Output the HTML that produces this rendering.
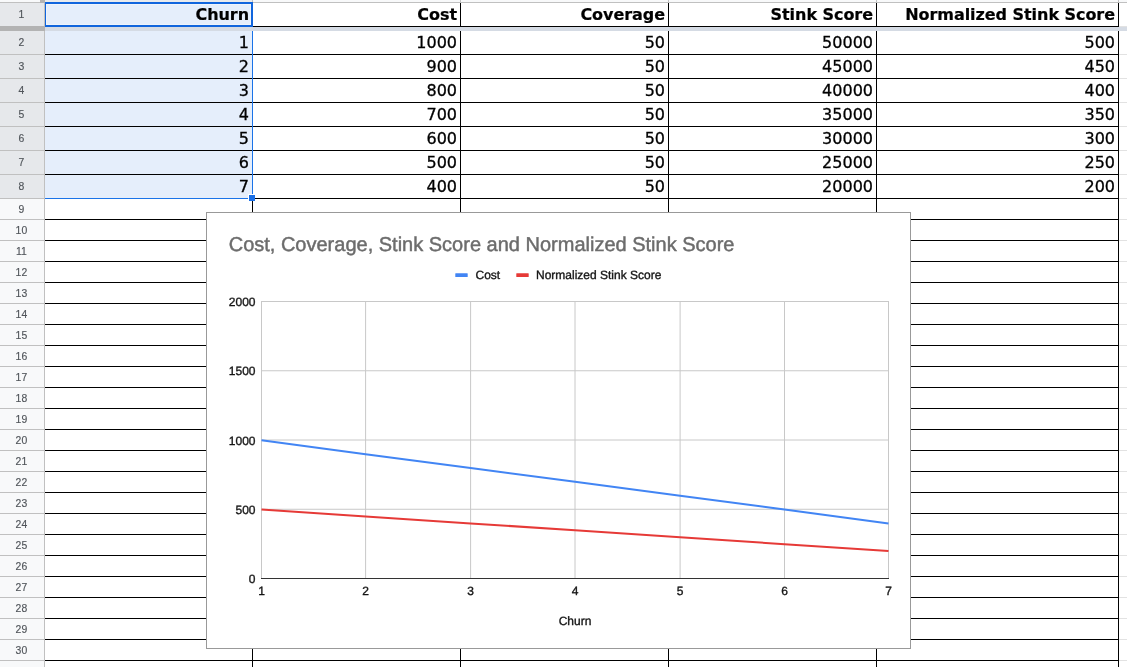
<!DOCTYPE html>
<html lang="en">
<head>
<meta charset="utf-8">
<title>Stink Score sheet</title>
<style>
html,body{margin:0;padding:0;}
body{width:1127px;height:667px;overflow:hidden;background:#fff;position:relative;font-family:"Liberation Sans",sans-serif;}
#sheet{position:absolute;left:0;top:0;width:1127px;height:667px;overflow:hidden;background:#fff;}
.a{position:absolute;}
.hl{position:absolute;height:1px;background:#000;}
.vl{position:absolute;width:1px;background:#000;}
.rh{position:absolute;left:0;width:44px;background:#f8f9fa;color:#50555a;font:10.4px/1 "Liberation Sans",sans-serif;text-align:center;letter-spacing:0.2px;}
.rh.sel{background:#e6e8eb;}
.rh{overflow:hidden;}
.rh span{position:absolute;left:0;width:43px;text-align:center;-webkit-text-stroke:0.15px #50555a;}

.rl{position:absolute;left:0;width:45px;height:1px;background:#c0c0c0;}
.c{position:absolute;text-align:right;white-space:nowrap;color:#000;font:16px/1 "DejaVu Sans","Liberation Sans",sans-serif;-webkit-text-stroke:0.3px #000;}
.c.b{font-weight:bold;-webkit-text-stroke:0.2px #000;letter-spacing:-0.05px;}
.fl{position:absolute;height:1px;background:#e2e2e2;left:1119px;width:8px;}
#chart{position:absolute;left:206px;top:212px;width:703px;height:435px;border:1px solid #999;background:#fff;}
#chart svg{position:absolute;left:0;top:0;}
#chart text{font-family:"Liberation Sans",sans-serif;text-rendering:geometricPrecision;}
#chart text.t{stroke:#151515;stroke-width:0.35px;}
</style>
</head>
<body>
<div id="sheet">

<div class="a" style="left:0;top:0;width:1127px;height:2px;background:#f8f9fa"></div>
<div class="a" style="left:45px;top:0;width:207px;height:2px;background:#e8eaed"></div>
<div class="a" style="left:0;top:2px;width:1127px;height:1px;background:#c0c0c0"></div>
<div class="a" style="left:252px;top:0;width:1px;height:3px;background:#c0c0c0"></div>
<div class="a" style="left:460px;top:0;width:1px;height:3px;background:#c0c0c0"></div>
<div class="a" style="left:668px;top:0;width:1px;height:3px;background:#c0c0c0"></div>
<div class="a" style="left:876px;top:0;width:1px;height:3px;background:#c0c0c0"></div>
<div class="a" style="left:1118px;top:0;width:1px;height:3px;background:#c0c0c0"></div>
<div class="a" style="left:40px;top:0;width:5px;height:3px;background:#b3b3b3"></div>
<div class="a" style="left:45px;top:3px;width:207px;height:195px;background:#e5eefb"></div>
<div class="rh sel" style="top:3px;height:23px"><span style="top:7px">1</span></div>
<div class="rh sel" style="top:31px;height:23px"><span style="top:7px">2</span></div>
<div class="rh sel" style="top:55px;height:23px"><span style="top:7px">3</span></div>
<div class="rh sel" style="top:79px;height:23px"><span style="top:7px">4</span></div>
<div class="rh sel" style="top:103px;height:23px"><span style="top:7px">5</span></div>
<div class="rh sel" style="top:127px;height:23px"><span style="top:7px">6</span></div>
<div class="rh sel" style="top:151px;height:23px"><span style="top:7px">7</span></div>
<div class="rh sel" style="top:175px;height:23px"><span style="top:7px">8</span></div>
<div class="rh" style="top:199px;height:20px"><span class="s" style="top:6px">9</span></div>
<div class="rh" style="top:220px;height:20px"><span class="s" style="top:6px">10</span></div>
<div class="rh" style="top:241px;height:20px"><span class="s" style="top:6px">11</span></div>
<div class="rh" style="top:262px;height:20px"><span class="s" style="top:6px">12</span></div>
<div class="rh" style="top:283px;height:20px"><span class="s" style="top:6px">13</span></div>
<div class="rh" style="top:304px;height:20px"><span class="s" style="top:6px">14</span></div>
<div class="rh" style="top:325px;height:20px"><span class="s" style="top:6px">15</span></div>
<div class="rh" style="top:346px;height:20px"><span class="s" style="top:6px">16</span></div>
<div class="rh" style="top:367px;height:20px"><span class="s" style="top:6px">17</span></div>
<div class="rh" style="top:388px;height:20px"><span class="s" style="top:6px">18</span></div>
<div class="rh" style="top:409px;height:20px"><span class="s" style="top:6px">19</span></div>
<div class="rh" style="top:430px;height:20px"><span class="s" style="top:6px">20</span></div>
<div class="rh" style="top:451px;height:20px"><span class="s" style="top:6px">21</span></div>
<div class="rh" style="top:472px;height:20px"><span class="s" style="top:6px">22</span></div>
<div class="rh" style="top:493px;height:20px"><span class="s" style="top:6px">23</span></div>
<div class="rh" style="top:514px;height:20px"><span class="s" style="top:6px">24</span></div>
<div class="rh" style="top:535px;height:20px"><span class="s" style="top:6px">25</span></div>
<div class="rh" style="top:556px;height:20px"><span class="s" style="top:6px">26</span></div>
<div class="rh" style="top:577px;height:20px"><span class="s" style="top:6px">27</span></div>
<div class="rh" style="top:598px;height:20px"><span class="s" style="top:6px">28</span></div>
<div class="rh" style="top:619px;height:20px"><span class="s" style="top:6px">29</span></div>
<div class="rh" style="top:640px;height:20px"><span class="s" style="top:6px">30</span></div>
<div class="rh" style="top:661px;height:20px"><span class="s" style="top:6px">31</span></div>
<div class="rl" style="top:26px"></div>
<div class="rl" style="top:54px"></div>
<div class="rl" style="top:78px"></div>
<div class="rl" style="top:102px"></div>
<div class="rl" style="top:126px"></div>
<div class="rl" style="top:150px"></div>
<div class="rl" style="top:174px"></div>
<div class="rl" style="top:198px"></div>
<div class="rl" style="top:219px"></div>
<div class="rl" style="top:240px"></div>
<div class="rl" style="top:261px"></div>
<div class="rl" style="top:282px"></div>
<div class="rl" style="top:303px"></div>
<div class="rl" style="top:324px"></div>
<div class="rl" style="top:345px"></div>
<div class="rl" style="top:366px"></div>
<div class="rl" style="top:387px"></div>
<div class="rl" style="top:408px"></div>
<div class="rl" style="top:429px"></div>
<div class="rl" style="top:450px"></div>
<div class="rl" style="top:471px"></div>
<div class="rl" style="top:492px"></div>
<div class="rl" style="top:513px"></div>
<div class="rl" style="top:534px"></div>
<div class="rl" style="top:555px"></div>
<div class="rl" style="top:576px"></div>
<div class="rl" style="top:597px"></div>
<div class="rl" style="top:618px"></div>
<div class="rl" style="top:639px"></div>
<div class="rl" style="top:660px"></div>
<div class="a" style="left:44px;top:3px;width:1px;height:664px;background:#c0c0c0"></div>
<div class="hl" style="left:45px;top:26px;width:1074px"></div>
<div class="hl" style="left:45px;top:54px;width:1074px"></div>
<div class="hl" style="left:45px;top:78px;width:1074px"></div>
<div class="hl" style="left:45px;top:102px;width:1074px"></div>
<div class="hl" style="left:45px;top:126px;width:1074px"></div>
<div class="hl" style="left:45px;top:150px;width:1074px"></div>
<div class="hl" style="left:45px;top:174px;width:1074px"></div>
<div class="hl" style="left:45px;top:198px;width:1074px"></div>
<div class="hl" style="left:45px;top:219px;width:1074px"></div>
<div class="hl" style="left:45px;top:240px;width:1074px"></div>
<div class="hl" style="left:45px;top:261px;width:1074px"></div>
<div class="hl" style="left:45px;top:282px;width:1074px"></div>
<div class="hl" style="left:45px;top:303px;width:1074px"></div>
<div class="hl" style="left:45px;top:324px;width:1074px"></div>
<div class="hl" style="left:45px;top:345px;width:1074px"></div>
<div class="hl" style="left:45px;top:366px;width:1074px"></div>
<div class="hl" style="left:45px;top:387px;width:1074px"></div>
<div class="hl" style="left:45px;top:408px;width:1074px"></div>
<div class="hl" style="left:45px;top:429px;width:1074px"></div>
<div class="hl" style="left:45px;top:450px;width:1074px"></div>
<div class="hl" style="left:45px;top:471px;width:1074px"></div>
<div class="hl" style="left:45px;top:492px;width:1074px"></div>
<div class="hl" style="left:45px;top:513px;width:1074px"></div>
<div class="hl" style="left:45px;top:534px;width:1074px"></div>
<div class="hl" style="left:45px;top:555px;width:1074px"></div>
<div class="hl" style="left:45px;top:576px;width:1074px"></div>
<div class="hl" style="left:45px;top:597px;width:1074px"></div>
<div class="hl" style="left:45px;top:618px;width:1074px"></div>
<div class="hl" style="left:45px;top:639px;width:1074px"></div>
<div class="hl" style="left:45px;top:660px;width:1074px"></div>
<div class="vl" style="left:252px;top:3px;height:664px"></div>
<div class="vl" style="left:460px;top:3px;height:664px"></div>
<div class="vl" style="left:668px;top:3px;height:664px"></div>
<div class="vl" style="left:876px;top:3px;height:664px"></div>
<div class="vl" style="left:1118px;top:3px;height:664px"></div>
<div class="fl" style="top:26px"></div>
<div class="fl" style="top:54px"></div>
<div class="fl" style="top:78px"></div>
<div class="fl" style="top:102px"></div>
<div class="fl" style="top:126px"></div>
<div class="fl" style="top:150px"></div>
<div class="fl" style="top:174px"></div>
<div class="fl" style="top:198px"></div>
<div class="fl" style="top:219px"></div>
<div class="fl" style="top:240px"></div>
<div class="fl" style="top:261px"></div>
<div class="fl" style="top:282px"></div>
<div class="fl" style="top:303px"></div>
<div class="fl" style="top:324px"></div>
<div class="fl" style="top:345px"></div>
<div class="fl" style="top:366px"></div>
<div class="fl" style="top:387px"></div>
<div class="fl" style="top:408px"></div>
<div class="fl" style="top:429px"></div>
<div class="fl" style="top:450px"></div>
<div class="fl" style="top:471px"></div>
<div class="fl" style="top:492px"></div>
<div class="fl" style="top:513px"></div>
<div class="fl" style="top:534px"></div>
<div class="fl" style="top:555px"></div>
<div class="fl" style="top:576px"></div>
<div class="fl" style="top:597px"></div>
<div class="fl" style="top:618px"></div>
<div class="fl" style="top:639px"></div>
<div class="fl" style="top:660px"></div>
<div class="a" style="left:45px;top:27px;width:1082px;height:4px;background:#d5dbe4"></div>
<div class="a" style="left:0;top:26px;width:45px;height:5px;background:#b3b3b3"></div>
<div class="a" style="left:252px;top:31px;width:1px;height:168px;background:#1a73e8"></div>
<div class="a" style="left:45px;top:198px;width:207px;height:1px;background:#1a73e8"></div>
<div class="a" style="left:45px;top:2px;width:205px;height:21px;border:solid #1065dd;border-width:2px 2px 2px 1px;box-shadow:inset 0 0 0 1px rgba(255,255,255,0.35)"></div>
<div class="a" style="left:248px;top:194px;width:6px;height:6px;border:solid #fff;border-width:1px 0 0 1px;background:#1a6fe6"></div>
<div class="c b" style="left:45px;top:7px;width:204px">Churn</div>
<div class="c b" style="left:253px;top:7px;width:204px">Cost</div>
<div class="c b" style="left:461px;top:7px;width:204px">Coverage</div>
<div class="c b" style="left:669px;top:7px;width:204px">Stink Score</div>
<div class="c b" style="left:877px;top:7px;width:238px">Normalized Stink Score</div>
<div class="c" style="left:45px;top:35px;width:204px">1</div>
<div class="c" style="left:253px;top:35px;width:204px">1000</div>
<div class="c" style="left:461px;top:35px;width:204px">50</div>
<div class="c" style="left:669px;top:35px;width:204px">50000</div>
<div class="c" style="left:877px;top:35px;width:238px">500</div>
<div class="c" style="left:45px;top:59px;width:204px">2</div>
<div class="c" style="left:253px;top:59px;width:204px">900</div>
<div class="c" style="left:461px;top:59px;width:204px">50</div>
<div class="c" style="left:669px;top:59px;width:204px">45000</div>
<div class="c" style="left:877px;top:59px;width:238px">450</div>
<div class="c" style="left:45px;top:83px;width:204px">3</div>
<div class="c" style="left:253px;top:83px;width:204px">800</div>
<div class="c" style="left:461px;top:83px;width:204px">50</div>
<div class="c" style="left:669px;top:83px;width:204px">40000</div>
<div class="c" style="left:877px;top:83px;width:238px">400</div>
<div class="c" style="left:45px;top:107px;width:204px">4</div>
<div class="c" style="left:253px;top:107px;width:204px">700</div>
<div class="c" style="left:461px;top:107px;width:204px">50</div>
<div class="c" style="left:669px;top:107px;width:204px">35000</div>
<div class="c" style="left:877px;top:107px;width:238px">350</div>
<div class="c" style="left:45px;top:131px;width:204px">5</div>
<div class="c" style="left:253px;top:131px;width:204px">600</div>
<div class="c" style="left:461px;top:131px;width:204px">50</div>
<div class="c" style="left:669px;top:131px;width:204px">30000</div>
<div class="c" style="left:877px;top:131px;width:238px">300</div>
<div class="c" style="left:45px;top:155px;width:204px">6</div>
<div class="c" style="left:253px;top:155px;width:204px">500</div>
<div class="c" style="left:461px;top:155px;width:204px">50</div>
<div class="c" style="left:669px;top:155px;width:204px">25000</div>
<div class="c" style="left:877px;top:155px;width:238px">250</div>
<div class="c" style="left:45px;top:179px;width:204px">7</div>
<div class="c" style="left:253px;top:179px;width:204px">400</div>
<div class="c" style="left:461px;top:179px;width:204px">50</div>
<div class="c" style="left:669px;top:179px;width:204px">20000</div>
<div class="c" style="left:877px;top:179px;width:238px">200</div>
<div id="chart"><svg width="703" height="435" viewBox="1 1 703 435"><line x1="55.50" y1="89.0" x2="55.50" y2="366.5" stroke="#c8c8c8" stroke-width="1"/><line x1="159.60" y1="89.0" x2="159.60" y2="366.5" stroke="#c8c8c8" stroke-width="1"/><line x1="264.60" y1="89.0" x2="264.60" y2="366.5" stroke="#c8c8c8" stroke-width="1"/><line x1="369.00" y1="89.0" x2="369.00" y2="366.5" stroke="#c8c8c8" stroke-width="1"/><line x1="474.10" y1="89.0" x2="474.10" y2="366.5" stroke="#c8c8c8" stroke-width="1"/><line x1="578.50" y1="89.0" x2="578.50" y2="366.5" stroke="#c8c8c8" stroke-width="1"/><line x1="682.50" y1="89.0" x2="682.50" y2="366.5" stroke="#c8c8c8" stroke-width="1"/><line x1="55.0" y1="89.50" x2="683.0" y2="89.50" stroke="#c8c8c8" stroke-width="1"/><line x1="55.0" y1="158.75" x2="683.0" y2="158.75" stroke="#c8c8c8" stroke-width="1"/><line x1="55.0" y1="228.00" x2="683.0" y2="228.00" stroke="#c8c8c8" stroke-width="1"/><line x1="55.0" y1="297.25" x2="683.0" y2="297.25" stroke="#c8c8c8" stroke-width="1"/><line x1="55.0" y1="366.5" x2="683.0" y2="366.5" stroke="#333" stroke-width="1"/><polyline points="55.50,228.30 159.60,242.15 264.60,256.00 369.00,269.85 474.10,283.70 578.50,297.55 682.50,311.40" fill="none" stroke="#4285f4" stroke-width="2.05"/><polyline points="55.50,297.55 159.60,304.48 264.60,311.40 369.00,318.32 474.10,325.25 578.50,332.18 682.50,339.10" fill="none" stroke="#e63a37" stroke-width="2.05"/><text x="22.7" y="39" font-size="20" fill="#6c6c6c" stroke="#6c6c6c" stroke-width="0.45">Cost, Coverage, Stink Score and Normalized Stink Score</text><rect x="249.3" y="61.3" width="12.4" height="3.8" rx="0.4" fill="#4285f4"/><text x="269.5" y="66.6" class="t" font-size="12" fill="#151515">Cost</text><rect x="310.3" y="61.3" width="12.4" height="3.8" rx="0.4" fill="#e63a37"/><text x="330" y="66.6" class="t" font-size="12" fill="#151515">Normalized Stink Score</text><text x="49.5" y="94.20" class="t" font-size="12" fill="#151515" text-anchor="end">2000</text><text x="49.5" y="163.45" class="t" font-size="12" fill="#151515" text-anchor="end">1500</text><text x="49.5" y="232.70" class="t" font-size="12" fill="#151515" text-anchor="end">1000</text><text x="49.5" y="301.95" class="t" font-size="12" fill="#151515" text-anchor="end">500</text><text x="49.5" y="371.20" class="t" font-size="12" fill="#151515" text-anchor="end">0</text><text x="55.50" y="382.5" class="t" font-size="12" fill="#151515" text-anchor="middle">1</text><text x="159.60" y="382.5" class="t" font-size="12" fill="#151515" text-anchor="middle">2</text><text x="264.60" y="382.5" class="t" font-size="12" fill="#151515" text-anchor="middle">3</text><text x="369.00" y="382.5" class="t" font-size="12" fill="#151515" text-anchor="middle">4</text><text x="474.10" y="382.5" class="t" font-size="12" fill="#151515" text-anchor="middle">5</text><text x="578.50" y="382.5" class="t" font-size="12" fill="#151515" text-anchor="middle">6</text><text x="682.50" y="382.5" class="t" font-size="12" fill="#151515" text-anchor="middle">7</text><text x="369" y="412.7" class="t" font-size="12" fill="#151515" text-anchor="middle">Churn</text></svg></div>
</div>
</body>
</html>
